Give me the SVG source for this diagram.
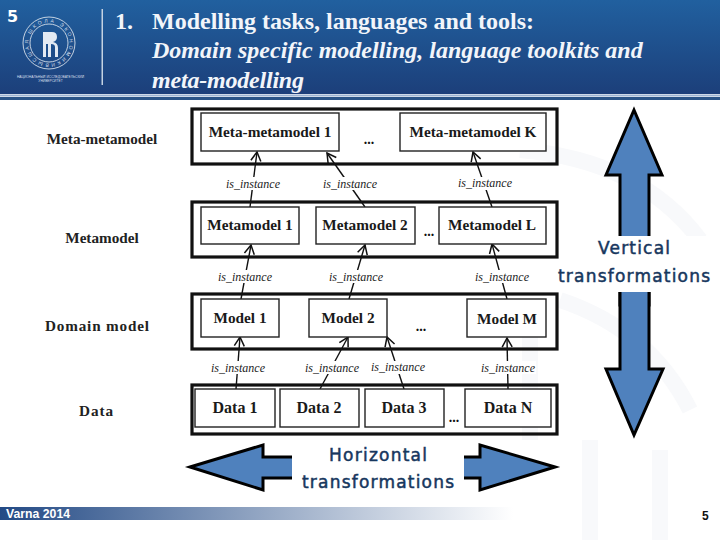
<svg xmlns="http://www.w3.org/2000/svg" width="720" height="540" viewBox="0 0 720 540">
<style>
.outer{fill:none;stroke:#111;stroke-width:3.2}
.box{fill:#fff;stroke:#222;stroke-width:1.4}
.bl{font:bold 15.3px "Liberation Serif",serif;fill:#1a1a1a;text-anchor:middle}
.bd{font:bold 16px "Liberation Serif",serif;fill:#1a1a1a;text-anchor:middle}
.side{font:bold 15.2px "Liberation Serif",serif;fill:#222;text-anchor:middle}
.inst{font:italic 12px "Liberation Serif",serif;fill:#222;text-anchor:middle}
.dots{font:bold 14px "Liberation Serif",serif;fill:#111;text-anchor:middle}
.title{font:bold 24px "Liberation Serif",serif;fill:#f2f5fa}
.titlei{font:italic bold 24px "Liberation Serif",serif;fill:#f2f5fa}
.conn{fill:none;stroke:#111;stroke-width:1.4;marker-end:url(#a)}
.mask{fill:#fff}
.big{fill:#4f81bd;stroke:#000;stroke-width:3;stroke-linejoin:miter}
.tr{font:17px "DejaVu Sans",sans-serif;fill:#17375e;stroke:#17375e;stroke-width:.5;text-anchor:middle}
.wm{fill:none;stroke:#f8f9fb;stroke-width:16}
</style>
<defs>
<linearGradient id="h" x1="0" y1="0" x2="0" y2="1"><stop offset="0" stop-color="#21609f"/><stop offset="1" stop-color="#1c3f7a"/></linearGradient>
<linearGradient id="f" x1="0" y1="0" x2="1" y2="0"><stop offset="0" stop-color="#234a85"/><stop offset="1" stop-color="#ffffff"/></linearGradient>
<marker id="a" markerUnits="userSpaceOnUse" markerWidth="14" markerHeight="14" refX="10" refY="6" orient="auto"><path d="M1 1 L10 6 L1 11" fill="none" stroke="#111" stroke-width="1.5"/></marker>
<path id="ring" d="M49 63.5 A20.5 20.5 0 1 1 49.01 63.5"/>
</defs>
<rect width="720" height="540" fill="#fff"/>
<g id="watermark">
<path class="wm" d="M520 150 Q640 160 700 240 M560 300 Q650 330 690 410 M590 540 V440 M660 540 V450 M530 300 V440"/>
</g>
<g id="header">
<rect width="720" height="94" fill="url(#h)"/>
<rect y="94.500" width="720" height="2" fill="#9db4d2"/>
<rect y="97" width="720" height="3" fill="#2a5488"/>
<rect x="101.500" y="9" width="1.500" height="76" fill="#c4d2e2"/>
<g id="logo">
<circle cx="49" cy="43" r="26" fill="none" stroke="#d5dfea" stroke-width=".9"/>
<circle cx="49" cy="43" r="19" fill="none" stroke="#d5dfea" stroke-width=".9"/>
<text font-family="Liberation Sans,sans-serif" font-size="5" fill="#d5dfea" letter-spacing="2.400"><textPath href="#ring">ВЫСШАЯ ШКОЛА ЭКОНОМИКИ</textPath></text>
<path d="M43 32 H52 Q57 32 57 37 Q57 41 53 42 Q58 43 58 48 V57 H55 V47 Q55 44 51 44 V57 H48 V44 H46 V57 H43 Z" fill="#e3eaf3"/>
<text x="50.500" y="78" font-family="Liberation Sans,sans-serif" font-size="3.300" fill="#d5dfea" text-anchor="middle">НАЦИОНАЛЬНЫЙ ИССЛЕДОВАТЕЛЬСКИЙ</text>
<text x="50.500" y="82" font-family="Liberation Sans,sans-serif" font-size="3.300" fill="#d5dfea" text-anchor="middle">УНИВЕРСИТЕТ</text>
</g>
<text x="7" y="22" font-family="DejaVu Sans,sans-serif" font-weight="bold" font-size="16" fill="#fff">5</text>
<text class="title" x="115" y="29">1.</text>
<text class="title" x="152" y="29">Modelling tasks, languages and tools:</text>
<text class="titlei" x="152" y="58">Domain specific modelling, language toolkits and</text>
<text class="titlei" x="152" y="88" textLength="152">meta-modelling</text>
</g>
<g id="connectors">
<path class="conn" d="M250 207 L257 152"/><path class="conn" d="M365 207 L327 153"/><path class="conn" d="M492 207 L473 152"/>
<path class="conn" d="M241 299 L251 245"/><path class="conn" d="M349 299 L365 245"/><path class="conn" d="M507 299 L492 244"/>
<path class="conn" d="M236 389 L240 337"/><path class="conn" d="M320 389 L348 337"/><path class="conn" d="M404 389 L387 337"/><path class="conn" d="M508 389 L507 338"/>
</g>
<g id="layer-meta-metamodel">
<rect class="outer" x="192" y="109" width="365" height="55"/>
<text class="side" x="102" y="144">Meta-metamodel</text>
<text class="dots" x="369" y="144">...</text>
</g>
<g id="layer-metamodel">
<rect class="outer" x="192" y="202" width="365" height="55"/>
<text class="side" x="102" y="243">Metamodel</text>
<text class="dots" x="429" y="236">...</text>
</g>
<g id="layer-domain-model">
<rect class="outer" x="192" y="294" width="365" height="55"/>
<text class="side" x="97" y="331" textLength="104">Domain model</text>
<text class="dots" x="421" y="331">...</text>
</g>
<g id="layer-data">
<rect class="outer" x="192" y="385" width="365" height="49"/>
<text class="side" x="96" y="416" textLength="34">Data</text>
<text class="dots" x="454" y="422">...</text>
</g>
<g id="node-mm1"><rect class="box" x="201" y="113" width="138" height="38"/><text class="bl" x="270" y="137">Meta-metamodel 1</text></g>
<g id="node-mmk"><rect class="box" x="400" y="113" width="146" height="38"/><text class="bl" x="473" y="137">Meta-metamodel K</text></g>
<g id="node-m1"><rect class="box" x="201" y="207" width="98" height="37"/><text class="bl" x="250" y="230">Metamodel 1</text></g>
<g id="node-m2"><rect class="box" x="316" y="207" width="99" height="37"/><text class="bl" x="365" y="230">Metamodel 2</text></g>
<g id="node-ml"><rect class="box" x="439" y="207" width="107" height="37"/><text class="bl" x="492" y="230">Metamodel L</text></g>
<g id="node-model1"><rect class="box" x="201" y="299" width="78" height="38"/><text class="bl" x="240" y="323">Model 1</text></g>
<g id="node-model2"><rect class="box" x="309" y="299" width="78" height="38"/><text class="bl" x="348" y="323">Model 2</text></g>
<g id="node-modelm"><rect class="box" x="467" y="299" width="79" height="38"/><text class="bl" x="507" y="324">Model M</text></g>
<g id="node-data1"><rect class="box" x="195" y="389" width="80" height="38"/><text class="bd" x="235" y="413">Data 1</text></g>
<g id="node-data2"><rect class="box" x="280" y="389" width="79" height="38"/><text class="bd" x="319" y="413">Data 2</text></g>
<g id="node-data3"><rect class="box" x="365" y="389" width="79" height="38"/><text class="bd" x="404" y="413">Data 3</text></g>
<g id="node-datan"><rect class="box" x="465" y="389" width="86" height="38"/><text class="bd" x="508" y="413">Data N</text></g>
<g id="labels">
<rect class="mask" x="225" y="177" width="56" height="13"/><text class="inst" x="253" y="188">is_instance</text>
<rect class="mask" x="322" y="177" width="56" height="13"/><text class="inst" x="350" y="188">is_instance</text>
<rect class="mask" x="457" y="177" width="56" height="13"/><text class="inst" x="485" y="187">is_instance</text>
<rect class="mask" x="217" y="270" width="56" height="13"/><text class="inst" x="245" y="281">is_instance</text>
<rect class="mask" x="328" y="270" width="56" height="13"/><text class="inst" x="356" y="281">is_instance</text>
<rect class="mask" x="474" y="270" width="56" height="13"/><text class="inst" x="502" y="281">is_instance</text>
<rect class="mask" x="210" y="361" width="56" height="13"/><text class="inst" x="238" y="372">is_instance</text>
<rect class="mask" x="304" y="361" width="56" height="13"/><text class="inst" x="332" y="372">is_instance</text>
<rect class="mask" x="370" y="361" width="56" height="13"/><text class="inst" x="398" y="371">is_instance</text>
<rect class="mask" x="480" y="361" width="56" height="13"/><text class="inst" x="508" y="372">is_instance</text>
</g>
<g id="vertical-arrow">
<path class="big" d="M634 110 L662 175 H649 V305 H620 V175 H606 Z"/>
<path class="big" d="M620 270 H649 V369 H663 L634 435 L606 369 H620 Z"/>
<rect class="mask" x="559" y="236" width="152" height="56"/>
<text class="tr" x="634" y="254" textLength="72">Vertical</text>
<text class="tr" x="634" y="282" textLength="152">transformations</text>
</g>
<g id="horizontal-arrow">
<path class="big" d="M190 467 L263 445 V457 H330 V478 H263 V490 Z"/>
<path class="big" d="M555 467 L480 445 V457 H420 V478 H480 V490 Z"/>
<rect class="mask" x="292" y="442" width="172" height="50"/>
<text class="tr" x="378" y="461" textLength="98">Horizontal</text>
<text class="tr" x="378" y="488" textLength="152">transformations</text>
</g>
<g id="footer">
<rect x="0" y="507" width="513" height="13" fill="url(#f)"/>
<text x="6" y="517.500" font-family="Liberation Sans,sans-serif" font-weight="bold" font-size="12" fill="#fff" textLength="64" lengthAdjust="spacingAndGlyphs">Varna 2014</text>
<text x="702" y="520" font-family="Liberation Sans,sans-serif" font-weight="bold" font-size="12" fill="#111">5</text>
</g>
</svg>
